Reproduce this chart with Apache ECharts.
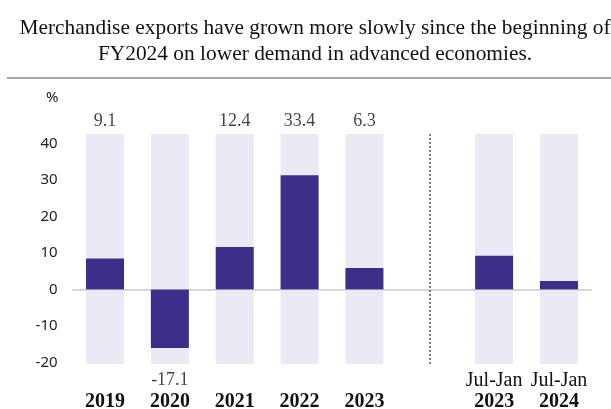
<!DOCTYPE html>
<html><head><meta charset="utf-8">
<script src="https://cdn.jsdelivr.net/npm/echarts@6/dist/echarts.min.js"></script>
<style>html,body{margin:0;padding:0;background:#fff}#c{width:611px;height:409px}</style>
</head><body><div id="c"></div>
<script>
// ---- data ----
const categories = ['2019', '2020', '2021', '2022', '2023', '', 'Jul-Jan\n2023', 'Jul-Jan\n2024'];
const growth = [9.1, -17.1, 12.4, 33.4, 6.3, null, 9.9, 2.5];
const showValue = [true, true, true, true, true, false, false, false];
const yTicks = [-20, -10, 0, 10, 20, 30, 40];
const titleText = 'Merchandise exports have grown more slowly since the beginning of\nFY2024 on lower demand in advanced economies.';

// axis ranges
const BAR_MIN = -21.8, BAR_MAX = 45.5;
const TICK_MIN = -20.4, TICK_MAX = 42.6;

const SERIF = '"Liberation Serif", "DejaVu Serif", serif';
const SANS = '"Noto Sans", "Open Sans", sans-serif';

const chart = echarts.init(document.getElementById('c'), null, {renderer: 'canvas'});
const hasBar = growth.map(v => v !== null);
const option = {
  animation: false,
  backgroundColor: '#fff',
  title: [{
    text: titleText,
    left: 310, top: 10, textAlign: 'center',
    textStyle: {fontFamily: SERIF, fontWeight: 'normal', fontSize: 21.4, lineHeight: 26, color: '#111'}
  }, {
    text: '%', left: 41, top: 85,
    textStyle: {fontFamily: SANS, fontWeight: 'normal', fontSize: 15, color: '#222'}
  }],
  graphic: [{
    type: 'line', shape: {x1: 7, y1: 78, x2: 611, y2: 78},
    style: {stroke: '#a8a8a8', lineWidth: 2}
  }],
  grid: {left: 72.6, right: 19.6, top: 134, bottom: 45, outerBoundsMode: 'none', containLabel: false},
  xAxis: {
    type: 'category', data: categories,
    axisLine: {show: true, lineStyle: {color: '#d6d6d6', width: 2}},
    axisTick: {show: false},
    axisLabel: {
      interval: 0, margin: 49, verticalAlign: 'bottom',
      formatter: function (v) {
        if (!v) return '';
        const parts = v.split('\n');
        const last = parts.pop();
        return parts.map(p => '{r|' + p + '}').concat('{b|' + last + '}').join('\n');
      },
      rich: {
        r: {fontFamily: SERIF, fontSize: 20, lineHeight: 21, color: '#111'},
        b: {fontFamily: SERIF, fontSize: 20, fontWeight: 'bold', lineHeight: 22, color: '#111'}
      }
    }
  },
  yAxis: [{
    type: 'value', min: BAR_MIN, max: BAR_MAX, show: false
  }, {
    type: 'value', min: TICK_MIN, max: TICK_MAX, position: 'left',
    axisLine: {show: false}, axisTick: {show: false}, splitLine: {show: false},
    axisLabel: {
      customValues: yTicks, margin: 15, fontFamily: SANS, fontSize: 15, color: '#222',
      padding: [0, 0, 5, 0]
    }
  }],
  series: [{
    // background column, upper part
    type: 'bar', yAxisIndex: 0, stack: 'bg', silent: true, barWidth: 38,
    data: hasBar.map(h => h ? BAR_MAX : '-'),
    itemStyle: {color: '#ebe9f4'}
  }, {
    // background column, lower part
    type: 'bar', yAxisIndex: 0, stack: 'bg', silent: true, barWidth: 38,
    data: hasBar.map(h => h ? BAR_MIN : '-'),
    itemStyle: {color: '#ebe9f4'}
  }, {
    type: 'bar', yAxisIndex: 0, barGap: '-100%', barWidth: 38,
    data: growth.map(v => v === null ? '-' : v),
    itemStyle: {color: '#3b2f8a'},
    markLine: {
      silent: true, symbol: 'none',
      label: {show: false},
      lineStyle: {color: '#555', type: [2, 2], width: 1.5},
      data: [{xAxis: 5}]
    }
  }, {
    type: 'scatter', yAxisIndex: 0, symbolSize: 0, silent: true,
    data: growth.map((v, i) => showValue[i] ? {
      value: v >= 0 ? BAR_MAX : BAR_MIN,
      label: {position: v >= 0 ? 'top' : 'bottom', distance: v >= 0 ? 4 : 7, formatter: v.toFixed(1)}
    } : '-'),
    label: {show: true, fontFamily: SERIF, fontSize: 18, color: '#111'}
  }]
};
chart.setOption(option);
</script>
</body></html>
